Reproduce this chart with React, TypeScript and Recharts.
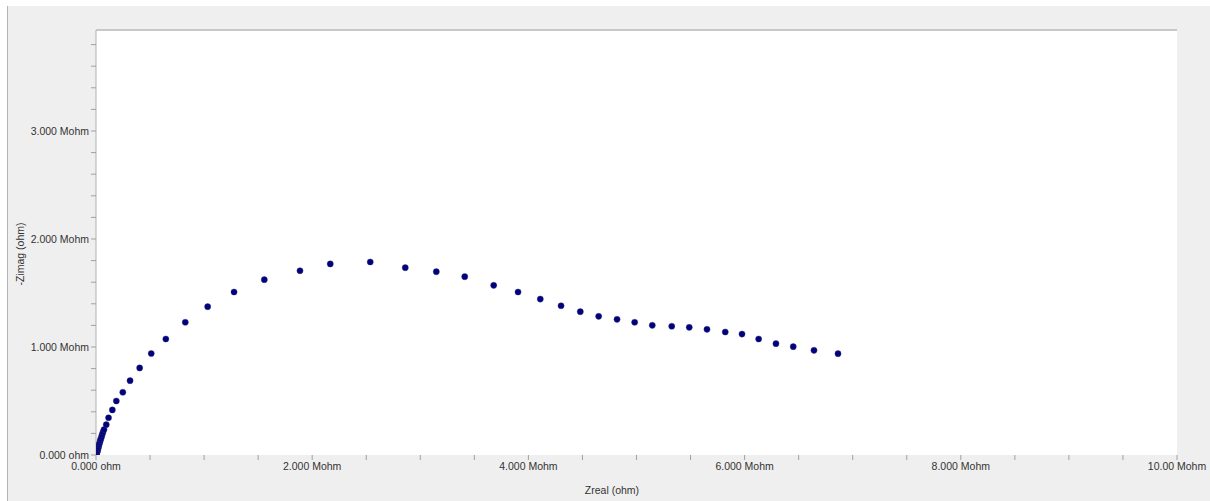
import React from 'react';
import { ScatterChart, Scatter, XAxis, YAxis, CartesianGrid, ReferenceLine } from 'recharts';

// Zreal (Mohm)
const zReal = [
  0.003, 0.006, 0.009, 0.014, 0.019, 0.023, 0.028, 0.033, 0.039, 0.044, 0.051, 0.057, 0.065, 0.074,
  0.095, 0.116, 0.151, 0.188, 0.248, 0.315, 0.404, 0.511, 0.646, 0.826, 1.033, 1.277, 1.557, 1.887,
  2.167, 2.537, 2.861, 3.148, 3.411, 3.679, 3.904, 4.110, 4.302, 4.480, 4.650, 4.820, 4.983, 5.146,
  5.326, 5.488, 5.652, 5.821, 5.976, 6.130, 6.290, 6.450, 6.642, 6.864,
];
// -Zimag (Mohm)
const zImag = [
  0.0, 0.009, 0.023, 0.037, 0.056, 0.074, 0.093, 0.111, 0.130, 0.148, 0.167, 0.190, 0.213, 0.236,
  0.281, 0.345, 0.417, 0.500, 0.581, 0.688, 0.806, 0.940, 1.074, 1.229, 1.373, 1.509, 1.623, 1.706,
  1.769, 1.787, 1.734, 1.697, 1.651, 1.571, 1.509, 1.444, 1.382, 1.327, 1.284, 1.256, 1.229, 1.201,
  1.192, 1.182, 1.164, 1.139, 1.120, 1.074, 1.031, 1.003, 0.969, 0.938,
];

const xTicks = [0, 0.5, 1, 1.5, 2, 2.5, 3, 3.5, 4, 4.5, 5, 5.5, 6, 6.5, 7, 7.5, 8, 8.5, 9, 9.5, 10];
const xMajor = [0, 2, 4, 6, 8, 10];
const xMajorLabels = ['0.000 ohm', '2.000 Mohm', '4.000 Mohm', '6.000 Mohm', '8.000 Mohm', '10.00 Mohm'];

const yTicks = [0, 0.2, 0.4, 0.6, 0.8, 1, 1.2, 1.4, 1.6, 1.8, 2, 2.2, 2.4, 2.6, 2.8, 3, 3.2, 3.4, 3.6, 3.8];
const yMajor = [0, 1, 2, 3];
const yMajorLabels = ['0.000 ohm', '1.000 Mohm', '2.000 Mohm', '3.000 Mohm'];

const xMax = 10;
const yMax = 3.935;

const data = zReal.map((x, i) => ({ x, y: zImag[i] }));

const FONT = '"Liberation Sans", Arial, sans-serif';
const TXT = '#333';

const fmt = (majors: number[], labels: string[]) => (v: number) => {
  const i = majors.findIndex((m) => Math.abs(m - v) < 1e-9);
  return i >= 0 ? labels[i] : '';
};

const Dot = (props: any) => {
  const { cx, cy } = props;
  if (cx == null || cy == null) return null;
  return <circle cx={cx} cy={cy} r={3.1} fill="#000080" stroke="#3a3a6a" strokeWidth={0.4} />;
};

export default function App() {
  return (
    <div style={{ position: 'absolute', left: 0, top: 0, width: 1210, height: 501, background: '#fff', overflow: 'hidden' }}>
      <div
        style={{
          position: 'absolute',
          left: 7,
          top: 6,
          width: 1203,
          height: 495,
          background: '#efefef',
          borderLeft: '1px solid #b4b4b4',
          boxSizing: 'border-box',
        }}
      />
      <div style={{ position: 'absolute', left: 0, top: 0 }}>
        <ScatterChart width={1210} height={501} margin={{ top: 30, right: 33, left: 0, bottom: 0 }}>
          <CartesianGrid horizontal={false} vertical={false} fill="#ffffff" stroke="none" />
          <XAxis
            type="number"
            dataKey="x"
            domain={[0, xMax]}
            ticks={xTicks}
            interval={0}
            height={46}
            allowDataOverflow
            tickFormatter={fmt(xMajor, xMajorLabels)}
            tickSize={5}
            tickMargin={3}
            axisLine={false}
            tickLine={{ stroke: '#a0a0a0' }}
            tick={{ fill: TXT, fontSize: 10.5, fontFamily: FONT }}
            label={{
              content: () => (
                <text x={612} y={494} textAnchor="middle" fill={TXT} fontSize={10.5} fontFamily={FONT}>
                  Zreal (ohm)
                </text>
              ),
            }}
          />
          <YAxis
            type="number"
            dataKey="y"
            domain={[0, yMax]}
            ticks={yTicks}
            interval={0}
            width={96}
            allowDataOverflow
            tickFormatter={fmt(yMajor, yMajorLabels)}
            tickSize={5}
            tickMargin={2}
            axisLine={{ stroke: '#b0b0b0' }}
            tickLine={{ stroke: '#a0a0a0' }}
            tick={{ fill: TXT, fontSize: 10.5, fontFamily: FONT }}
            label={{
              content: () => (
                <text
                  x={24}
                  y={254}
                  textAnchor="middle"
                  fill={TXT}
                  fontSize={10.5}
                  fontFamily={FONT}
                  transform="rotate(-90 24 254)"
                >
                  -Zimag (ohm)
                </text>
              ),
            }}
          />
          <ReferenceLine y={yMax} stroke="#c8c8c8" strokeWidth={2} ifOverflow="visible" />
          <Scatter data={data} isAnimationActive={false} shape={<Dot />} />
        </ScatterChart>
      </div>
    </div>
  );
}
